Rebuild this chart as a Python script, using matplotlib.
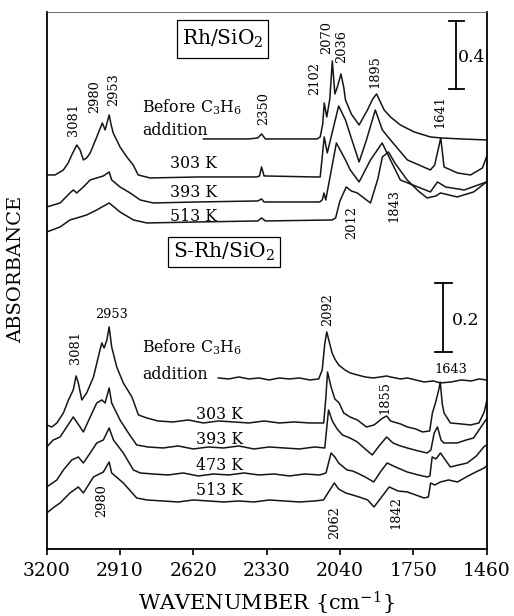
import matplotlib
matplotlib.use("Agg")
import matplotlib.pyplot as plt
from matplotlib.patches import Rectangle

plt.rcParams['font.family'] = ['DejaVu Serif']
plt.rcParams['mathtext.fontset'] = 'dejavuserif'

# ---------------- data (wavenumber cm-1, offset absorbance a.u.) ----------------
# Rh/SiO2 panel
rh_before_wn = [2580, 2400, 2365, 2350, 2335, 2130, 2118, 2108, 2102, 2092, 2080, 2070, 2060, 2050, 2036,
                2025, 2018, 1995, 1964, 1931, 1910, 1895, 1880, 1865, 1840, 1801, 1746, 1682, 1640, 1560, 1460]
rh_before_y = [410, 410, 411, 415, 410, 410, 412, 425, 446, 432, 450, 488, 455, 462, 475,
               462, 449, 435, 424, 439, 450, 455, 447, 439, 432, 424, 417, 412, 411, 410, 409]

rh_303_wn = [3200, 3167, 3134, 3115, 3101, 3081, 3068, 3055, 3042, 3028, 3002, 2980, 2969, 2953, 2945, 2937,
             2910, 2883, 2858, 2838, 2791, 2600, 2370, 2358, 2350, 2340, 2140, 2118, 2102, 2090, 2045, 2018,
             1999, 1964, 1935, 1900, 1872, 1840, 1773, 1682, 1665, 1641, 1628, 1575, 1523, 1476, 1460]
rh_303_y = [374, 374, 379, 386, 394, 404, 399, 389, 391, 396, 412, 426, 419, 434, 424, 416,
            402, 392, 384, 374, 371, 372, 372, 373, 382, 373, 372, 372, 412, 396, 443, 429,
            414, 387, 409, 439, 419, 409, 389, 379, 384, 411, 382, 376, 374, 381, 392]

rh_393_wn = [3200, 3147, 3108, 3095, 3081, 3055, 3028, 3002, 2976, 2953, 2943, 2910, 2870, 2830, 2779,
             2600, 2365, 2350, 2340, 2320, 2120, 2110, 2103, 2096, 2054, 2018, 1999, 1964, 1919, 1873,
             1840, 1801, 1682, 1654, 1622, 1548, 1460]
rh_393_y = [342, 346, 356, 359, 356, 362, 369, 371, 373, 377, 369, 362, 356, 349, 346,
            347, 348, 350, 347, 347, 347, 349, 356, 349, 406, 389, 379, 367, 389, 406,
            389, 369, 357, 367, 362, 359, 367]

rh_513_wn = [3200, 3147, 3108, 3081, 3042, 3002, 2953, 2910, 2857, 2804, 2600, 2365, 2350, 2335, 2070,
             2057, 2040, 2015, 1995, 1971, 1935, 1919, 1890, 1872, 1848, 1820, 1774, 1730, 1695, 1660,
             1642, 1576, 1511, 1460]
rh_513_y = [317, 322, 329, 331, 334, 339, 346, 337, 329, 326, 327, 328, 331, 328, 329,
            331, 348, 362, 358, 356, 349, 346, 370, 392, 397, 385, 369, 358, 351, 353,
            356, 352, 357, 367]

# S-Rh/SiO2 panel
srh_before_wn = [2521, 2480, 2440, 2400, 2360, 2320, 2280, 2240, 2200, 2160, 2124, 2110, 2100, 2092, 2080,
                 2071, 2060, 2045, 2020, 1999, 1971, 1940, 1908, 1880, 1855, 1840, 1800, 1773, 1740, 1707,
                 1670, 1642, 1600, 1560, 1520, 1490, 1460]
srh_before_y = [171, 170, 172, 170, 171, 169, 171, 170, 171, 169, 170, 179, 205, 217, 205,
                196, 190, 184, 179, 176, 174, 172, 171, 172, 173, 172, 170, 171, 169, 167,
                168, 166, 167, 169, 168, 170, 169]

srh_303_wn = [3200, 3180, 3160, 3134, 3114, 3095, 3084, 3075, 3061, 3042, 3015, 2996, 2982, 2973, 2962,
              2953, 2943, 2923, 2897, 2863, 2837, 2804, 2760, 2700, 2640, 2580, 2520, 2460, 2400, 2340,
              2280, 2220, 2160, 2104, 2096, 2089, 2075, 2060, 2043, 2025, 2000, 1971, 1935, 1905, 1870,
              1855, 1840, 1800, 1773, 1740, 1713, 1685, 1674, 1662, 1650, 1643, 1635, 1628, 1603, 1560,
              1523, 1490, 1469, 1460]
srh_303_y = [124, 122, 126, 136, 149, 159, 173, 166, 149, 156, 172, 192, 206, 201, 209,
             222, 202, 182, 166, 152, 134, 131, 128, 127, 129, 126, 128, 127, 126, 128,
             126, 127, 126, 126, 150, 177, 162, 150, 146, 136, 132, 129, 122, 124, 131,
             133, 128, 125, 122, 120, 117, 118, 136, 146, 158, 167, 145, 136, 126, 125,
             124, 126, 137, 147]

srh_393_wn = [3200, 3174, 3147, 3121, 3095, 3068, 3055, 3028, 3002, 2982, 2969, 2953, 2943, 2910, 2877,
              2844, 2800, 2740, 2680, 2620, 2560, 2500, 2440, 2380, 2320, 2260, 2200, 2140, 2100, 2085,
              2070, 2051, 2030, 2000, 1971, 1940, 1912, 1885, 1855, 1830, 1800, 1774, 1730, 1695, 1680,
              1667, 1654, 1640, 1629, 1600, 1576, 1540, 1511, 1471, 1460]
srh_393_y = [102, 109, 112, 122, 132, 122, 117, 132, 146, 149, 146, 161, 146, 129, 116,
             104, 102, 101, 103, 100, 102, 101, 103, 100, 102, 101, 100, 102, 101, 139,
             128, 120, 114, 111, 107, 100, 94, 103, 112, 106, 103, 101, 98, 96, 99,
             116, 122, 109, 106, 106, 106, 109, 111, 126, 130]

srh_473_wn = [3200, 3160, 3134, 3101, 3075, 3055, 3028, 3002, 2976, 2953, 2936, 2897, 2857, 2830, 2780,
              2720, 2660, 2600, 2540, 2480, 2420, 2360, 2300, 2240, 2180, 2120, 2095, 2075, 2060, 2045,
              2012, 1990, 1972, 1940, 1906, 1880, 1853, 1820, 1774, 1730, 1695, 1684, 1675, 1660, 1642,
              1620, 1603, 1570, 1536, 1500, 1471, 1460]
srh_473_y = [62, 69, 79, 89, 92, 86, 96, 106, 109, 121, 109, 96, 79, 76, 75,
             74, 76, 73, 75, 74, 76, 74, 75, 73, 75, 74, 76, 96, 92, 86,
             79, 78, 76, 72, 67, 77, 86, 82, 77, 74, 72, 73, 92, 90, 96,
             88, 82, 84, 86, 93, 102, 104]

srh_513_wn = [3200, 3170, 3147, 3108, 3075, 3055, 3015, 2976, 2953, 2943, 2897, 2844, 2804, 2740, 2680,
              2620, 2560, 2500, 2440, 2380, 2320, 2260, 2200, 2140, 2105, 2085, 2062, 2045, 2017, 1990,
              1964, 1930, 1905, 1875, 1845, 1810, 1773, 1740, 1707, 1690, 1681, 1665, 1642, 1610, 1575,
              1540, 1510, 1469, 1460]
srh_513_y = [36, 42, 46, 56, 62, 56, 72, 77, 87, 76, 66, 51, 49, 48, 47,
             49, 48, 47, 48, 47, 49, 48, 47, 48, 49, 57, 66, 60, 56, 54,
             52, 49, 42, 52, 62, 58, 57, 54, 51, 52, 66, 64, 67, 69, 67,
             72, 76, 81, 83]

x_ticks = [3200, 2910, 2620, 2330, 2040, 1750, 1460]

# ---------------- figure ----------------
fig = plt.figure(figsize=(5.14, 6.16), dpi=100)
ax = fig.add_axes([0.0909, 0.1088, 0.8556, 0.8718])

lc = '#151515'
lw = 1.1
for wn, y in [(rh_before_wn, rh_before_y), (rh_303_wn, rh_303_y), (rh_393_wn, rh_393_y),
              (rh_513_wn, rh_513_y), (srh_before_wn, srh_before_y), (srh_303_wn, srh_303_y),
              (srh_393_wn, srh_393_y), (srh_473_wn, srh_473_y), (srh_513_wn, srh_513_y)]:
    ax.plot(wn, y, color=lc, lw=lw)

ax.set_xlim(3200, 1460)
ax.set_ylim(0, 537)
ax.set_xticks(x_ticks)
ax.set_xticklabels([str(t) for t in x_ticks])
ax.set_yticks([])
ax.tick_params(axis='x', direction='out', length=4.5, width=1.2, labelsize=13.5, pad=5, color='black')
for s in ['left', 'bottom', 'right']:
    ax.spines[s].set_linewidth(1.3)
    ax.spines[s].set_color('black')
ax.spines['top'].set_linewidth(0.6)
ax.spines['top'].set_color('#555555')

ax.set_xlabel('WAVENUMBER {cm$^{-1}$}', fontsize=15, labelpad=7)
ax.set_ylabel('ABSORBANCE', fontsize=14)
ax.yaxis.set_label_coords(-0.05, 0.52)

# panel boxes
ax.add_patch(Rectangle((2683, 491), 2323 - 2683, 38, fill=False, ec='black', lw=0.9))
ax.text(2504, 510, 'Rh/SiO$_2$', fontsize=14.5, ha='center', va='center')
ax.add_patch(Rectangle((2719, 282), 2279 - 2719, 30, fill=False, ec='black', lw=0.9))
ax.text(2500, 297, 'S-Rh/SiO$_2$', fontsize=14.5, ha='center', va='center')

# scale bars
def scale_bar(x, y0, y1, half):
    ax.plot([x, x], [y0, y1], color='black', lw=1.3)
    ax.plot([x - half, x + half], [y0, y0], color='black', lw=1.3)
    ax.plot([x - half, x + half], [y1, y1], color='black', lw=1.3)

scale_bar(1579, 460, 528, 31)
ax.text(1519, 491, '0.4', fontsize=12.5, ha='center', va='center')
scale_bar(1631, 197, 266, 34)
ax.text(1543, 228, '0.2', fontsize=12.5, ha='center', va='center')

# condition labels
fs_c = 11.3
ax.text(2822, 442, 'Before C$_3$H$_6$', fontsize=fs_c, ha='left', va='center')
ax.text(2822, 418, 'addition', fontsize=fs_c, ha='left', va='center')
ax.text(2620, 385, '303 K', fontsize=fs_c, ha='center', va='center')
ax.text(2620, 356, '393 K', fontsize=fs_c, ha='center', va='center')
ax.text(2620, 332, '513 K', fontsize=fs_c, ha='center', va='center')

ax.text(2822, 202, 'Before C$_3$H$_6$', fontsize=fs_c, ha='left', va='center')
ax.text(2822, 174, 'addition', fontsize=fs_c, ha='left', va='center')
ax.text(2518, 134, '303 K', fontsize=fs_c, ha='center', va='center')
ax.text(2518, 109, '393 K', fontsize=fs_c, ha='center', va='center')
ax.text(2518, 83, '473 K', fontsize=fs_c, ha='center', va='center')
ax.text(2518, 58, '513 K', fontsize=fs_c, ha='center', va='center')

# peak labels
fs_p = 9.3
rot_labels = [('3081', 3095, 429), ('2980', 3009, 452), ('2953', 2937, 459), ('2350', 2343, 440),
              ('2102', 2141, 470), ('2070', 2092, 511), ('2036', 2032, 502), ('1895', 1900, 477),
              ('1641', 1646, 437), ('2012', 1995, 326), ('1843', 1828, 343),
              ('3081', 3088, 201), ('2092', 2090, 239), ('1855', 1864, 151), ('2062', 2062, 26),
              ('1842', 1820, 36), ('2980', 2982, 48)]
for t, x, y in rot_labels:
    ax.text(x, y, t, fontsize=fs_p, rotation=90, ha='center', va='center')
ax.text(2943, 234, '2953', fontsize=fs_p, ha='center', va='center')
ax.text(1602, 179, '1643', fontsize=fs_p, ha='center', va='center')

fig.savefig('out.png', dpi=100)
